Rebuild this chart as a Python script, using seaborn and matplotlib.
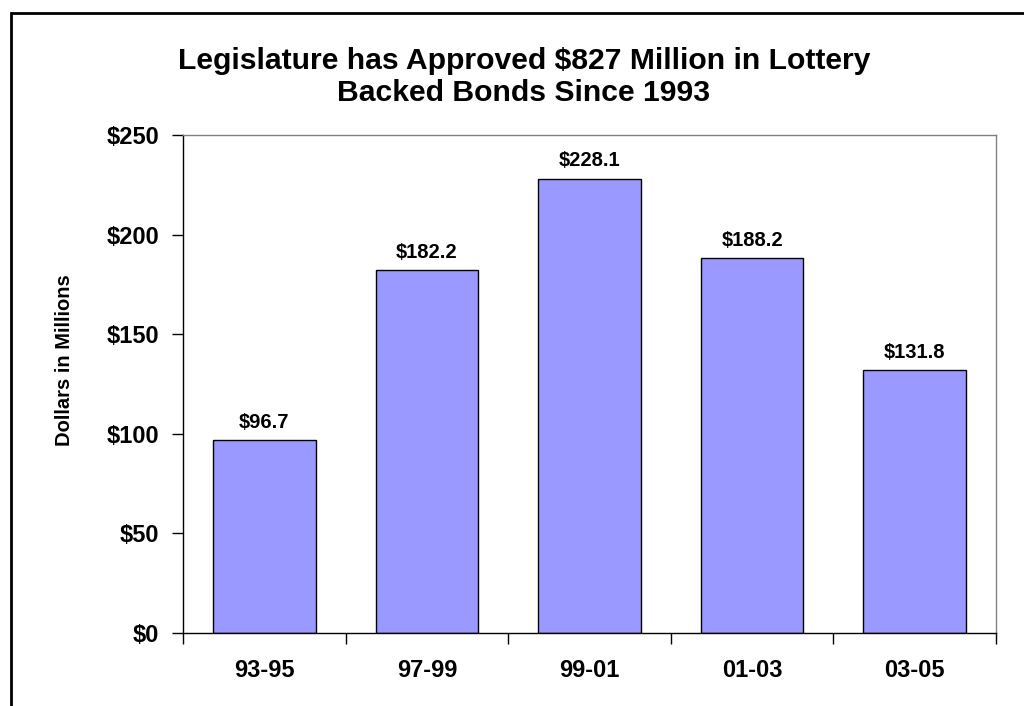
import matplotlib
matplotlib.use("Agg")
import matplotlib.pyplot as plt
from matplotlib.patches import Rectangle
from matplotlib.ticker import FixedLocator, FuncFormatter
import seaborn as sns
import pandas as pd

# Bond approvals by biennium (millions of dollars)
bienniums = ["93-95", "97-99", "99-01", "01-03", "03-05"]
amounts = [96.7, 182.2, 228.1, 188.2, 131.8]
y_ticks = [0, 50, 100, 150, 200, 250]

sns.set_style("white", {"xtick.bottom": True, "ytick.left": True,
                        "text.color": "black", "xtick.color": "black",
                        "ytick.color": "black", "axes.labelcolor": "black"})
plt.rcParams["font.family"] = ["Liberation Sans", "DejaVu Sans"]
plt.rcParams["font.weight"] = "bold"

df = pd.DataFrame({"Biennium": bienniums, "Amount": amounts})

W, H = 1024, 706
fig = plt.figure(figsize=(W / 100, H / 100), dpi=100)
ax = fig.add_axes([183 / W, 1 - 633 / H, (996 - 183) / W, (633 - 135) / H])

sns.barplot(data=df, x="Biennium", y="Amount", color="#9999FF",
            saturation=1, width=0.63, edgecolor="black", linewidth=1.0, ax=ax)

ax.set_xlim(-0.5, len(bienniums) - 0.5)
ax.set_ylim(0, 250)
ax.set_yticks(y_ticks)
ax.yaxis.set_major_formatter(FuncFormatter(lambda v, p: f"${v:.0f}"))
ax.tick_params(axis="y", which="major", left=True, length=8, width=1, color="black",
               labelcolor="black", direction="out", pad=9, labelsize=17)

# category labels at bar centres, tick marks at category boundaries
ax.xaxis.set_minor_locator(FixedLocator([i - 0.5 for i in range(len(bienniums) + 1)]))
ax.tick_params(axis="x", which="major", length=0, pad=19, labelsize=17, labelcolor="black")
ax.tick_params(axis="x", which="minor", bottom=True, length=8, width=1,
               color="black", direction="out")
for lbl in ax.get_xticklabels() + ax.get_yticklabels():
    lbl.set_fontweight("bold")

ax.set_xlabel("")
ax.set_ylabel("")

for side in ("left", "bottom"):
    ax.spines[side].set_color("black")
    ax.spines[side].set_linewidth(1.0)
for side in ("top", "right"):
    ax.spines[side].set_visible(True)
    ax.spines[side].set_color("#808080")
    ax.spines[side].set_linewidth(1.0)

for i, v in enumerate(amounts):
    ax.annotate(f"${v:.1f}", xy=(i, v), xytext=(0, 6), textcoords="offset points",
                ha="center", va="bottom", fontsize=14.5, fontweight="bold", color="black")

fig.text(65 / W, 1 - 360 / H, "Dollars in Millions", rotation=90,
         ha="center", va="center", fontsize=14.5, fontweight="bold", color="black")

fig.text(524 / W, 1 - 77 / H, "Legislature has Approved $827 Million in Lottery\nBacked Bonds Since 1993",
         ha="center", va="center", fontsize=21.7, fontweight="bold", linespacing=1.22,
         color="black")

# outer frame
fig.patches.append(Rectangle((11 / W, -0.1), 1.2, (H - 13) / H + 0.1,
                             transform=fig.transFigure, fill=False,
                             edgecolor="black", linewidth=2.0))

fig.savefig("out.png", dpi=100)
